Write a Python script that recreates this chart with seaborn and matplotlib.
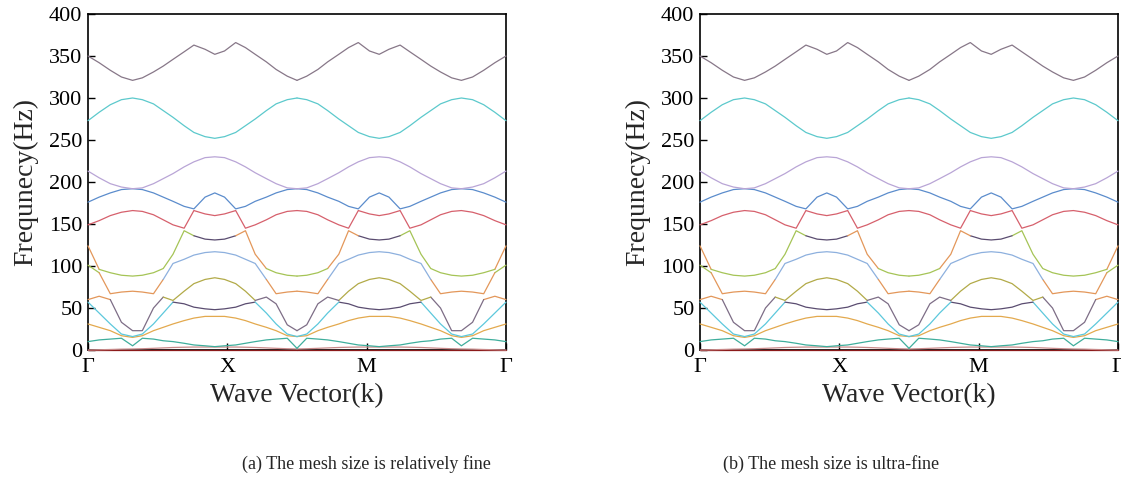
import numpy as np
import pandas as pd
import matplotlib
matplotlib.use("Agg")
import matplotlib.pyplot as plt
import seaborn as sns

# wave-vector path coordinate (Γ=0, X=1, M=2, Γ=3)
k_path = [0.00, 0.08, 0.16, 0.24, 0.32, 0.39, 0.47, 0.54, 0.61, 0.69, 0.76, 0.84, 0.91, 0.98, 1.06,
          1.13, 1.20, 1.28, 1.35, 1.43, 1.50, 1.57, 1.65, 1.72, 1.80, 1.87, 1.94, 2.02, 2.09, 2.16,
          2.24, 2.31, 2.39, 2.46, 2.53, 2.61, 2.68, 2.76, 2.84, 2.92, 3.00]

# dispersion branches (Hz)
br_top = [350, 342, 333, 325, 321, 324, 331, 338, 346, 355, 363, 358, 352, 356, 366, 360, 352, 343, 334, 326, 321,
          326, 334, 343, 352, 360, 366, 356, 352, 358, 363, 355, 346, 338, 331, 324, 321, 325, 333, 342, 350]
br_cyan = [273, 283, 292, 298, 300, 298, 293, 285, 277, 267, 259, 254, 252, 254, 259, 267, 275, 285, 293, 298, 300,
           298, 293, 285, 275, 267, 259, 254, 252, 254, 259, 267, 277, 285, 293, 298, 300, 298, 292, 283, 273]
br_lav = [213, 205, 198, 194, 192, 193, 198, 204, 210, 218, 224, 229, 230, 229, 224, 218, 211, 204, 198, 193, 192,
          193, 198, 204, 211, 218, 224, 229, 230, 229, 224, 218, 210, 204, 198, 193, 192, 194, 198, 205, 213]
br_blue = [176, 182, 187, 191, 192, 191, 187, 182, 177, 171, 166, 162, 160, 162, 166, 171, 177, 182, 187, 191, 192,
           191, 187, 182, 177, 171, 166, 162, 160, 162, 166, 171, 177, 182, 187, 191, 192, 191, 187, 182, 176]
br_red = [149, 154, 160, 164, 166, 165, 161, 155, 149, 142, 136, 132, 131, 132, 136, 142, 149, 155, 161, 165, 166,
          165, 161, 155, 149, 142, 136, 132, 131, 132, 136, 142, 149, 155, 161, 165, 166, 164, 160, 154, 149]
br_steep = [124, 92, 60, 33, 23, 23, 50, 84, 114, 145, 168, 182, 187, 182, 168, 145, 114, 84, 55, 30, 23,
            30, 55, 84, 114, 145, 168, 182, 187, 182, 168, 145, 114, 84, 50, 23, 23, 33, 60, 92, 124]
br_green = [101, 96, 92, 89, 88, 89, 92, 97, 103, 108, 113, 116, 117, 116, 113, 108, 103, 97, 92, 89, 88,
            89, 92, 97, 103, 108, 113, 116, 117, 116, 113, 108, 103, 97, 92, 89, 88, 89, 92, 96, 101]
br_orange = [60, 64, 67, 69, 70, 69, 67, 63, 59, 55, 51, 49, 48, 49, 51, 55, 59, 63, 67, 69, 70,
             69, 67, 63, 59, 55, 51, 49, 48, 49, 51, 55, 59, 63, 67, 69, 70, 69, 67, 64, 60]
br_vee = [57, 44, 31, 17, 5, 17, 31, 44, 57, 70, 79, 84, 86, 84, 79, 70, 57, 44, 31, 17, 2,
          17, 31, 44, 57, 70, 79, 84, 86, 84, 79, 70, 57, 44, 31, 17, 5, 17, 31, 44, 57]
br_yellow = [31, 27, 23, 19, 16, 19, 23, 27, 31, 35, 38, 40, 40, 40, 38, 35, 31, 27, 23, 19, 16,
             19, 23, 27, 31, 35, 38, 40, 40, 40, 38, 35, 31, 27, 23, 19, 16, 19, 23, 27, 31]
br_teal = [10, 12, 13, 14, 15, 14, 13, 11, 10, 8, 6, 5, 4, 5, 6, 8, 10, 12, 13, 14, 16,
           14, 13, 12, 10, 8, 6, 5, 4, 5, 6, 8, 10, 11, 13, 14, 15, 14, 13, 12, 10]
br_low = [0, 0.3, 0.6, 1.0, 1.2, 1.5, 2.0, 2.5, 3.0, 3.3, 3.5, 3.5, 3.5, 3.5, 3.5, 3.3, 3.0, 2.5, 2.0, 1.5, 1.2,
          1.5, 2.0, 2.5, 3.0, 3.3, 3.5, 3.5, 3.5, 3.5, 3.5, 3.3, 3.0, 2.5, 2.0, 1.5, 1.2, 1.0, 0.6, 0.3, 0]
br_zero = [0, 0, 0, 0, 0, 0, 0, 0, 0, 0, 0, 0, 0, 0, 0, 0, 0, 0, 0, 0, 0,
           0, 0, 0, 0, 0, 0, 0, 0, 0, 0, 0, 0, 0, 0, 0, 0, 0, 0, 0, 0]

tick_pos = [0, 1, 2, 3]
tick_labels = ["Γ", "X", "M", "Γ"]
y_ticks = [0, 50, 100, 150, 200, 250, 300, 350, 400]
captions = ["(a) The mesh size is relatively fine", "(b) The mesh size is ultra-fine"]

# ---- style: colour of each band (lowest first), as segments over the first half of the path
C = {"darkred": "#8b1a1a", "pink": "#c98a8a", "teal": "#3fae9c", "yellow": "#e3a94e",
     "cyan": "#5cc8dc", "dark": "#5a4c70", "orange": "#e3975a", "gray": "#7d6d86",
     "olive": "#b2aa48", "green": "#a5c456", "lblue": "#8db0de", "red": "#d6606c",
     "blue": "#5b8ccc", "lav": "#b9a5d6", "cyan2": "#5cc9cc", "top": "#877788"}
band_segments = [
    [(0, 20, "darkred")],
    [(0, 20, "pink")],
    [(0, 20, "teal")],
    [(0, 20, "yellow")],
    [(0, 8, "cyan"), (8, 16, "dark"), (16, 20, "cyan")],
    [(0, 2, "orange"), (2, 7, "gray"), (7, 16, "olive"), (16, 20, "gray")],
    [(0, 1, "green"), (1, 7, "orange"), (7, 17, "lblue"), (17, 20, "orange")],
    [(0, 1, "orange"), (1, 10, "green"), (10, 14, "dark"), (14, 17, "orange"), (17, 20, "green")],
    [(0, 20, "red")],
    [(0, 20, "blue")],
    [(0, 20, "lav")],
    [(0, 20, "cyan2")],
    [(0, 20, "top")],
]

branches = [br_zero, br_low, br_teal, br_yellow, br_vee, br_orange, br_green,
            br_steep, br_red, br_blue, br_lav, br_cyan, br_top]
# eigenfrequencies sorted at each wave vector -> band index
bands = np.sort(np.array(branches, dtype=float), axis=0)
k = np.array(k_path)
n = len(k) - 1
rows = []
palette = {}
for i, b in enumerate(bands):
    segs = []
    for a, e, col in band_segments[i]:
        segs.append((a, e, col))
        segs.append((n - e, n - a, col))
    for s, (a, e, col) in enumerate(segs):
        sid = f"b{i:02d}_{s}"
        palette[sid] = C[col]
        rows.append(pd.DataFrame({"k": k[a:e + 1], "freq": b[a:e + 1], "seg": sid}))
df = pd.concat(rows, ignore_index=True)

sns.set_style("white")
plt.rcParams["font.family"] = ["Liberation Serif", "DejaVu Serif"]

fig = plt.figure(figsize=(11.21, 4.79), dpi=100)
lefts = [88 / 1121, 700 / 1121]
cap_x = [366 / 1121, 831 / 1121]
for j in range(2):
    ax = fig.add_axes([lefts[j], 1 - 350 / 479, 418 / 1121, 336 / 479])
    sns.lineplot(data=df, x="k", y="freq", hue="seg", palette=palette,
                 estimator=None, legend=False, linewidth=0.9, ax=ax, zorder=3)
    for ln in ax.lines:
        ln.set_clip_on(False)
    ax.set_xlim(0, 3)
    ax.set_ylim(0, 400)
    ax.set_xticks(tick_pos)
    ax.set_xticklabels(tick_labels)
    ax.set_yticks(y_ticks)
    ax.tick_params(axis="both", direction="in", length=5, width=1.0, labelsize=16,
                   colors="black", bottom=True, left=True)
    ax.tick_params(axis="x", pad=6)
    ax.tick_params(axis="y", pad=4)
    for s in ax.spines.values():
        s.set_color("black")
        s.set_linewidth(1.2)
        s.set_visible(True)
    ax.set_xlabel("Wave Vector(k)", fontsize=20, labelpad=4)
    ax.set_ylabel("Frequnecy(Hz)", fontsize=20, labelpad=8)
    fig.text(cap_x[j], 1 - 464 / 479, captions[j], ha="center", va="center", fontsize=13)

fig.savefig("out.png", dpi=100, facecolor="white")
